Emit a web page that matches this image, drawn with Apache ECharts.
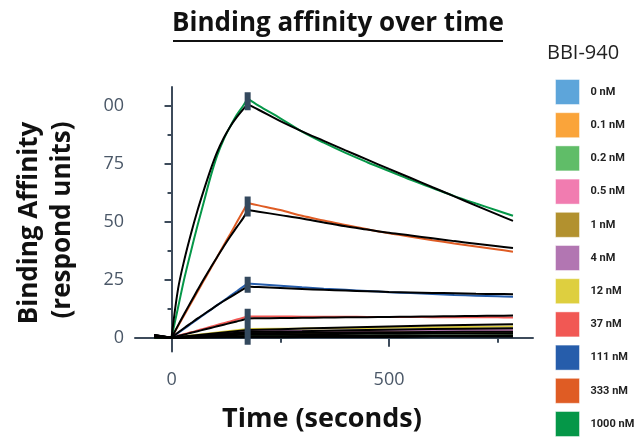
<!DOCTYPE html>
<html>
<head>
<meta charset="utf-8">
<script src="https://cdn.jsdelivr.net/npm/echarts@6/dist/echarts.min.js"></script>
<style>html,body{margin:0;padding:0;background:#fff}#c{width:641px;height:438px}</style>
</head>
<body>
<div id="c"></div>
<script>
// ---- data ----
const names = ['0 nM','0.1 nM','0.2 nM','0.5 nM','1 nM','4 nM','12 nM','37 nM','111 nM','333 nM','1000 nM'];
const colors = ['#5DA5DA','#FAA43A','#60BD68','#F17CB0','#B2912F','#B276B2','#DECF3F','#F15854','#265DAB','#DF5C24','#059748'];

const times = [-40,0,15,30,45,60,75,90,105,120,135,150,165,175,200,250,300,350,400,450,500,550,600,650,700,750,785];
const tShort = [-40,0,175,300,450,600,785];

const d1000 = [0,0,13,26,37.5,48.5,59,69.5,78.5,85.5,91,96,100,103,100,94.5,88.8,84,79.6,75.6,71.8,68,64.5,61,57.8,54.7,52.5];
const f1000 = [1.2,0,21,34,45,55,64,72.5,80,86,91,95,98.5,100.5,98.2,93.3,88.9,84.8,80.7,76.7,72.7,68.8,64.8,60.9,56.9,53,50.3];
const d333 = [0,0,5,10,14.9,19.9,24.9,29.8,34.8,39.8,44.7,49.7,54.7,58,57,55,52.5,50.5,48.5,46.7,45,43.5,42,40.6,39.3,38,37];
const f333 = [1.0,0,5.3,10.5,15.6,20.6,25.5,30.2,34.8,39.3,43.6,47.6,51.6,55,54.3,52.8,51.3,49.6,48,46.6,45.2,44,42.8,41.6,40.5,39.4,38.6];
const d111 = [0,0,2,4,6,8,10,12,14,16,18,20,22,23.3,23,22.4,21.7,21.1,20.6,20.1,19.6,19.2,18.8,18.4,18.1,17.8,17.6];
const f111 = [0.8,0,2.2,4.3,6.3,8.3,10.2,12.1,14,15.8,17.5,19.2,20.9,22,21.8,21.4,21,20.6,20.3,20,19.7,19.5,19.3,19.1,18.9,18.8,18.7];
const d37 = [0,0,0.8,1.6,2.3,3.1,3.9,4.7,5.5,6.2,7,7.8,8.6,9.1,9.1,9.1,9.05,9,9,8.95,8.9,8.9,8.85,8.8,8.8,8.75,8.7];
const f37 = [0.6,0,0.7,1.4,2.1,2.8,3.5,4.2,4.9,5.6,6.3,7,7.7,8.3,8.35,8.45,8.55,8.65,8.75,8.85,8.95,9.05,9.15,9.25,9.35,9.45,9.5];

const d12 = [0,0,3.7,3.9,4.2,4.5,4.8];   const f12 = [1.2,0,3.3,3.9,4.6,5.2,5.8];
const d4  = [0,0,2.8,2.95,3.1,3.25,3.4]; const f4  = [1.0,0,2.4,2.8,3.3,3.7,4.1];
const d05 = [0,0,2.2,2.45,2.7,2.95,3.2]; const f05 = [0.8,0,1.9,2.1,2.3,2.45,2.6];
const d1  = [0,0,1.6,1.8,2.05,2.3,2.5];  const f1  = [0.6,0,1.4,1.5,1.65,1.8,1.9];
const d02 = [0,0,0.8,0.85,0.9,0.95,1.0]; const f02 = [0.4,0,0.6,0.7,0.75,0.85,0.9];
const d01 = [0,0,0.5,0.55,0.65,0.7,0.8]; const f01 = [0.2,0,0.4,0.5,0.6,0.7,0.8];
const d0  = [0,0,0.3,0.35,0.4,0.45,0.5]; const f0  = [0,0,0.2,0.25,0.3,0.35,0.4];

const markerTime = 175;
const markerRanges = [[98,105.7],[52.2,60.8],[19.4,26.3],[-3,12.5]];

const yMajorTicks = [0,25,50,75,100];
const yMinorTicks = [12.5,37.5,62.5,87.5];
const xMajorTicks = [0,500];
const xMinorTicks = [250,750];

// ---- build ----
const seriesData = [
  {d:d0,f:f0,t:tShort},{d:d01,f:f01,t:tShort},{d:d02,f:f02,t:tShort},{d:d05,f:f05,t:tShort},
  {d:d1,f:f1,t:tShort},{d:d4,f:f4,t:tShort},{d:d12,f:f12,t:tShort},{d:d37,f:f37,t:times},
  {d:d111,f:f111,t:times},{d:d333,f:f333,t:times},{d:d1000,f:f1000,t:times}
];
const zip = (t, v) => t.map((x, i) => [x, v[i]]);
// split a curve into baseline / association / dissociation pieces
function pieces(t, v) {
  const pts = zip(t, v);
  const i0 = t.indexOf(0), i1 = t.indexOf(markerTime);
  return [pts.slice(0, i0 + 1), pts.slice(i0, i1 + 1), pts.slice(i1)];
}
const series = [];
function addCurve(name, t, v, color, z) {
  pieces(t, v).forEach((p, k) => {
    series.push({name:name, type:'line', data:p, symbol:'none', color:color,
      smooth:k === 0 ? false : 0.35, lineStyle:{width:2, color:color}, z:z});
  });
}
seriesData.forEach((s, i) => addCurve(names[i], s.t, s.d, colors[i], 2));
seriesData.forEach((s, i) => addCurve('fit ' + names[i], s.t, s.f, '#000', 3));
markerRanges.forEach((r, i) => {
  series.push({name:'marker' + i, type:'line', data:[[markerTime, r[0]], [markerTime, r[1]]], symbol:'none',
    lineStyle:{width:6, color:'#34495e', cap:'butt'}, z:4});
});

const axisColor = '#3d4b5b';
const labelColor = '#4a5767';
const chart = echarts.init(document.getElementById('c'), null, {renderer:'canvas'});
chart.setOption({
  animation:false,
  backgroundColor:'#fff',
  grid:{left:135, right:108, top:87, bottom:86.4},
  legend:{
    data:names, orient:'vertical', left:555, top:79, height:420, padding:0,
    itemWidth:24, itemHeight:25, itemGap:7.2,
    icon:'rect', selectedMode:false,
    itemStyle:{borderColor:'rgba(255,255,255,0.45)', borderWidth:1},
    textStyle:{fontFamily:'Roboto', fontWeight:'bold', fontSize:11, color:'#222', padding:[0,0,0,6]}
  },
  xAxis:[
    {type:'value', min:-84, max:831, splitLine:{show:false},
     axisLine:{lineStyle:{color:axisColor, width:2}},
     axisTick:{customValues:xMajorTicks, length:9, lineStyle:{color:axisColor, width:2}},
     axisLabel:{customValues:xMajorTicks, margin:19, fontFamily:'Open Sans', fontSize:18, color:labelColor}},
    {type:'value', min:-84, max:831, position:'bottom', splitLine:{show:false},
     axisLine:{show:false},
     axisTick:{customValues:xMinorTicks, length:5, lineStyle:{color:axisColor, width:2}},
     axisLabel:{show:false}}
  ],
  yAxis:[
    {type:'value', min:-6, max:108, splitLine:{show:false},
     axisLine:{show:true, lineStyle:{color:axisColor, width:2}},
     axisTick:{show:true, customValues:yMajorTicks, length:7, lineStyle:{color:axisColor, width:2}},
     axisLabel:{customValues:yMajorTicks, margin:11, fontFamily:'Open Sans', fontSize:18, color:labelColor,
       formatter:v => v === 100 ? '00' : String(v)}},
    {type:'value', min:-6, max:108, position:'left', splitLine:{show:false},
     axisLine:{show:false},
     axisTick:{show:true, customValues:yMinorTicks, length:4, lineStyle:{color:axisColor, width:2}},
     axisLabel:{show:false}}
  ],
  series:series,
  graphic:[
    {type:'text', x:338, y:24, style:{text:'Binding affinity over time', fontFamily:'Open Sans', fontWeight:'bold',
      fontSize:26, fill:'#111', align:'center', verticalAlign:'middle'}},
    {type:'line', shape:{x1:173, y1:41, x2:503, y2:41}, style:{stroke:'#111', lineWidth:2}},
    {type:'text', x:547, y:53, style:{text:'BBI-940', fontFamily:'Open Sans', fontSize:20, fill:'#222',
      align:'left', verticalAlign:'middle'}},
    {type:'text', x:30, y:223, rotation:Math.PI/2, style:{text:'Binding Affinity', fontFamily:'Open Sans',
      fontWeight:'bold', fontSize:26, fill:'#111', align:'center', verticalAlign:'middle'}},
    {type:'text', x:63, y:220, rotation:Math.PI/2, style:{text:'(respond units)', fontFamily:'Open Sans',
      fontWeight:'bold', fontSize:26, fill:'#111', align:'center', verticalAlign:'middle'}},
    {type:'text', x:322, y:419, style:{text:'Time (seconds)', fontFamily:'Open Sans', fontWeight:'bold',
      fontSize:27, fill:'#111', align:'center', verticalAlign:'middle'}}
  ]
});
</script>
</body>
</html>
